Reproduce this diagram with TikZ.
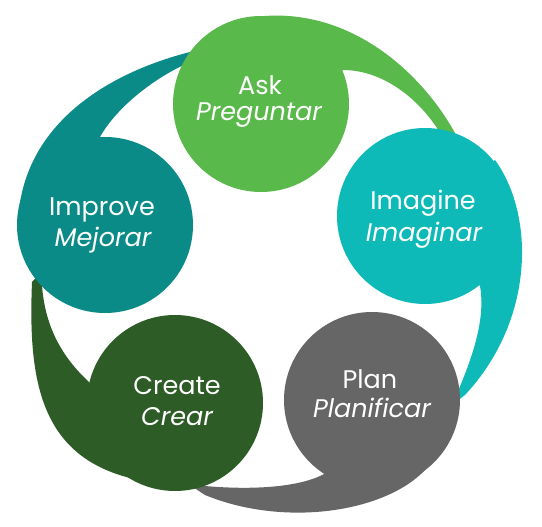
\documentclass[tikz,border=0pt]{standalone}
\usepackage{fontspec}
\setmainfont{Poppins}
\definecolor{askc}{HTML}{5AB94B}
\definecolor{imgc}{HTML}{0EBAB8}
\definecolor{planc}{HTML}{666666}
\definecolor{crec}{HTML}{2D5C27}
\definecolor{impc}{HTML}{0B8B87}
\tikzset{
  bubble/.style={circle, inner sep=0pt, minimum size=176pt, fill=#1},
  lbl/.style={text=white, font=\fontsize{25.5}{28}\selectfont, inner sep=0pt},
  lbli/.style={lbl, font=\fontsize{25.5}{28}\selectfont\itshape}
}
\begin{document}
\begin{tikzpicture}[x=1pt,y=-1pt]
\useasboundingbox (0,0) rectangle (542,527);
% tails
\fill[askc] (265,16) .. controls (350,10) and (420,70) .. (455,133) -- (445,150) -- (437,128) .. controls (415,95) and (380,70) .. (343,70) -- (261,104) -- cycle;
\fill[imgc] (495,160) .. controls (535,215) and (535,320) .. (465,395) -- (452,405) .. controls (472,360) and (486,320) .. (480,286) -- (425,216) -- cycle;
\fill[planc] (433,460) .. controls (400,510) and (290,530) .. (205,495) -- (190,485) -- (205,486) .. controls (250,490) and (300,488) .. (326,473) -- (372,400) -- cycle;
\fill[crec] (130,478) .. controls (40,455) and (28,380) .. (32,282) -- (48,265) -- (42,285) .. controls (45,330) and (65,360) .. (90,383) -- (175,403) -- cycle;
\fill[impc] (18,225) .. controls (20,130) and (100,75) .. (190,52) -- (205,65) -- (188,63) .. controls (150,80) and (115,110) .. (100,137) -- (105,225) -- cycle;
% circles
\node[bubble=askc] (ask) at (261,104) {};
\node[bubble=imgc] (imagine) at (425,216) {};
\node[bubble=planc] (plan) at (372,400) {};
\node[bubble=crec] (create) at (175,403) {};
\node[bubble=impc] (improve) at (105,225) {};
% labels
\node[lbl] (askt) at (260,85) {Ask};
\node[lbli] (askts) at (259,115) {Preguntar};
\node[lbl] (imgt) at (423,203) {Imagine};
\node[lbli] (imgts) at (424,235) {Imaginar};
\node[lbl] (plant) at (370,379) {Plan};
\node[lbli] (plants) at (372,408) {Planificar};
\node[lbl] (cret) at (177,386) {Create};
\node[lbli] (crets) at (177,417) {Crear};
\node[lbl] (impt) at (102,210) {Improve};
\node[lbli] (impts) at (103,240) {Mejorar};
\end{tikzpicture}
\end{document}
